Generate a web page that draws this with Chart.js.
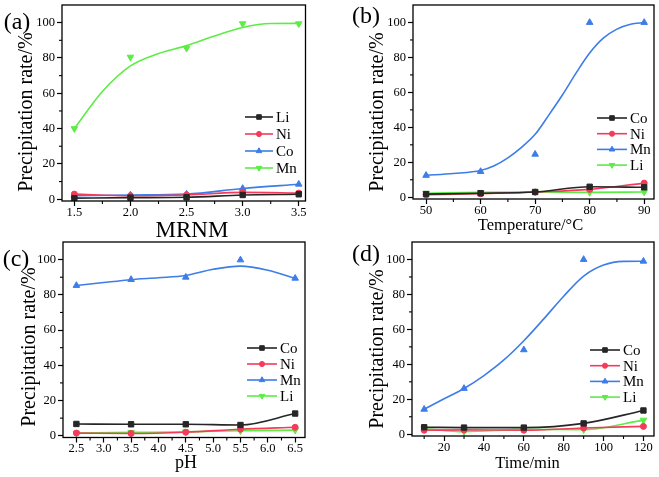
<!DOCTYPE html>
<html lang="en">
<head>
    <meta charset="UTF-8">
    <title>Precipitation rate</title>
    <script src="https://cdn.jsdelivr.net/npm/chart.js"></script>
    <style>
        html, body { margin: 0; padding: 0; background: #fff; }
        body { width: 659px; height: 477px; position: relative; overflow: hidden; }
        canvas { position: absolute; }
    </style>
</head>
<body>
    <canvas id="chartA" width="330" height="240" style="left:0;top:0"></canvas>
    <canvas id="chartB" width="329" height="240" style="left:330px;top:0"></canvas>
    <canvas id="chartC" width="330" height="240" style="left:0;top:237px"></canvas>
    <canvas id="chartD" width="329" height="240" style="left:330px;top:237px"></canvas>
    <script>
        // (a) MRNM
        const mrnm = [1.5, 2.0, 2.5, 3.0, 3.5];
        const liA = [0.6, 0.9, 1.1, 2.4, 2.8];
        const niA = [2.9, 2.0, 2.4, 3.9, 3.5];
        const coA = [2.0, 2.4, 2.9, 6.1, 8.5];
        const mnA = [40, 80.5, 85.5, 99.4, 99.4];
        const mnFitXA = [1.5, 1.75, 2.0, 2.25, 2.5, 2.75, 3.0, 3.25, 3.5];
        const mnFitA = [40, 61, 75.5, 82.5, 87, 92.5, 97.3, 99.5, 99.6];

        // (b) temperature
        const temps = [50, 60, 70, 80, 90];
        const coB = [1.8, 2.3, 3.0, 6.0, 5.7];
        const niB = [1.5, 2.0, 3.0, 4.5, 8.1];
        const mnB = [12.5, 14.7, 24.6, 100, 100];
        const liB = [2.3, 2.8, 3.0, 2.8, 3.0];
        const mnFitXB = [50, 55, 60, 62.5, 65, 67.5, 70, 72.5, 75, 77.5, 80, 82.5, 85, 87.5, 90];
        const mnFitB = [12.5, 13.6, 15.3, 18, 22.5, 28.5, 36, 47, 58.5, 71, 82.5, 91, 96.2, 99, 100];

        // (c) pH
        const phs = [2.5, 3.5, 4.5, 5.5, 6.5];
        const coC = [6.7, 6.5, 6.5, 6.1, 12.6];
        const niC = [1.5, 1.3, 2.0, 3.7, 4.8];
        const mnC = [85.3, 88.7, 90, 99.8, 89.4];
        const liC = [1.5, 1.9, 2.2, 2.8, 3.2];
        const mnFitXC = [2.5, 3.0, 3.5, 4.0, 4.5, 5.0, 5.5, 6.0, 6.5];
        const mnFitC = [85.3, 87, 88.6, 89.7, 91, 94.5, 96.3, 94, 89.4];

        // (d) time
        const times = [10, 30, 60, 90, 120];
        const coD = [4.0, 3.8, 3.8, 6.2, 13.6];
        const niD = [2.3, 2.5, 2.3, 3.6, 4.5];
        const mnD = [14.3, 26.2, 48.3, 100, 99];
        const liD = [3.2, 1.5, 2.8, 2.6, 8.1];
        const mnFitXD = [10, 20, 30, 40, 50, 60, 70, 80, 90, 100, 110, 120];
        const mnFitD = [14.3, 20.3, 26.2, 33.6, 42.5, 53.5, 66, 79, 90.5, 96.8, 98.9, 99];

        // tick labels
        const yTicks = [0, 20, 40, 60, 80, 100];
        const xTicksA = [1.5, 2.0, 2.5, 3.0, 3.5];
        const xTicksB = [50, 60, 70, 80, 90];
        const xTicksC = [2.5, 3.0, 3.5, 4.0, 4.5, 5.0, 5.5, 6.0, 6.5];
        const xTicksD = [20, 40, 60, 80, 100, 120];

        const BLACK = '#262626', RED = '#f53b5b', BLUE = '#3d7de8', GREEN = '#5ced45';
        const SERIF = '"Liberation Serif", "Times New Roman", serif';
        const Y_TITLE = 'Precipitation rate/%';

        const markers = {
            square: { pointStyle: 'rect', radius: 3.8, rotation: 0 },
            circle: { pointStyle: 'circle', radius: 3, rotation: 0 },
            up: { pointStyle: 'triangle', radius: 3.8, rotation: 0 },
            down: { pointStyle: 'triangle', radius: 3.8, rotation: 180 },
        };

        const xy = (xs, ys) => xs.map((x, i) => ({ x: x, y: ys[i] }));

        function seriesSets(s, xs) {
            const m = markers[s.marker];
            const base = {
                borderColor: s.color, backgroundColor: s.color,
                pointBackgroundColor: s.color, pointBorderColor: s.color,
                pointStyle: m.pointStyle, pointRadius: m.radius, pointRotation: m.rotation,
                pointBorderWidth: 1, borderWidth: 1.6, cubicInterpolationMode: 'monotone',
            };
            if (s.fitX) {
                return [
                    Object.assign({}, base, { label: s.label, data: xy(s.fitX, s.fitY), pointRadius: 0 }),
                    Object.assign({}, base, { label: s.label + ' data', data: xy(xs, s.ys), showLine: false }),
                ];
            }
            return [Object.assign({}, base, { label: s.label, data: xy(xs, s.ys) })];
        }

        // plot box, minor ticks, titles and legend
        const decor = {
            id: 'decor',
            afterDraw(chart, args, o) {
                const { ctx, chartArea: a, scales: { x, y } } = chart;
                ctx.save();
                ctx.strokeStyle = '#000';
                ctx.lineWidth = 1.3;
                ctx.strokeRect(a.left, a.top, a.right - a.left, a.bottom - a.top);

                ctx.lineWidth = 1.1;
                const mids = arr => arr.slice(1).map((v, i) => (v + arr[i]) / 2);
                const xm = mids(o.xTicks);
                const stepX = o.xTicks[1] - o.xTicks[0];
                xm.push(o.xTicks[0] - stepX / 2, o.xTicks[o.xTicks.length - 1] + stepX / 2);
                xm.filter(v => v > x.min && v < x.max).forEach(v => {
                    const px = x.getPixelForValue(v);
                    ctx.beginPath(); ctx.moveTo(px, a.bottom); ctx.lineTo(px, a.bottom + 3); ctx.stroke();
                });
                mids(yTicks).forEach(v => {
                    const py = y.getPixelForValue(v);
                    ctx.beginPath(); ctx.moveTo(a.left, py); ctx.lineTo(a.left - 3, py); ctx.stroke();
                });

                ctx.fillStyle = '#000';
                ctx.textAlign = 'center';
                ctx.textBaseline = 'middle';
                ctx.font = o.panel.size + 'px ' + SERIF;
                ctx.fillText(o.panel.text, o.panel.x, o.panel.y);

                ctx.textBaseline = 'alphabetic';
                ctx.font = o.xTitle.size + 'px ' + SERIF;
                ctx.fillText(o.xTitle.text, o.xTitle.x, o.xTitle.y);

                ctx.save();
                ctx.translate(o.yTitle.x, o.yTitle.y);
                ctx.rotate(-Math.PI / 2);
                ctx.textBaseline = 'middle';
                ctx.font = o.yTitle.size + 'px ' + SERIF;
                ctx.fillText(Y_TITLE, 0, 0);
                ctx.restore();

                const lg = o.legend;
                ctx.font = '15px ' + SERIF;
                ctx.textAlign = 'left';
                ctx.textBaseline = 'middle';
                o.series.forEach((s, i) => {
                    const ly = lg.y0 + i * lg.dy;
                    const m = markers[s.marker];
                    ctx.strokeStyle = s.color;
                    ctx.fillStyle = s.color;
                    ctx.lineWidth = 1.6;
                    ctx.beginPath(); ctx.moveTo(lg.x0, ly); ctx.lineTo(lg.x1, ly); ctx.stroke();
                    ctx.lineWidth = 1;
                    Chart.helpers.drawPoint(ctx, { pointStyle: m.pointStyle, rotation: m.rotation, radius: m.radius * 0.85, borderWidth: 1 }, (lg.x0 + lg.x1) / 2, ly);
                    ctx.fillStyle = '#000';
                    ctx.fillText(s.label, lg.tx, ly + 1);
                });
                ctx.restore();
            }
        };

        function makePanel(id, p) {
            const datasets = [];
            p.series.forEach(s => seriesSets(s, p.xs).forEach(d => datasets.push(d)));
            const tickFont = { family: SERIF, size: 12.5 };
            return new Chart(document.getElementById(id), {
                type: 'line',
                data: { datasets: datasets },
                options: {
                    responsive: false,
                    animation: false,
                    events: [],
                    layout: { padding: { left: 0, top: p.padTop, right: p.padRight, bottom: 0 } },
                    plugins: {
                        legend: { display: false },
                        tooltip: { enabled: false },
                        decor: {
                            xTicks: p.xTicks, series: p.series, legend: p.legend,
                            panel: p.panel, xTitle: p.xTitle, yTitle: p.yTitle,
                        },
                    },
                    scales: {
                        x: {
                            type: 'linear', min: p.xMin, max: p.xMax,
                            afterBuildTicks: s => { s.ticks = p.xTicks.map(v => ({ value: v })); },
                            afterFit: s => { s.height = p.xAxisH; s.paddingLeft = 0; s.paddingRight = 0; },
                            ticks: {
                                color: '#000', font: tickFont, padding: -1, maxRotation: 0, autoSkip: false,
                                callback: v => p.xDec ? v.toFixed(p.xDec) : String(v),
                            },
                            grid: { drawOnChartArea: false, tickLength: 5, tickColor: '#000', tickWidth: 1.2 },
                            border: { display: false },
                        },
                        y: {
                            min: -1, max: 110,
                            afterBuildTicks: s => { s.ticks = yTicks.map(v => ({ value: v })); },
                            afterFit: s => { s.width = p.yAxisW; s.paddingTop = 0; s.paddingBottom = 0; },
                            ticks: { color: '#000', font: tickFont, padding: 2 },
                            grid: { drawOnChartArea: false, tickLength: 5, tickColor: '#000', tickWidth: 1.2 },
                            border: { display: false },
                        },
                    },
                },
                plugins: [decor],
            });
        }

        makePanel('chartA', {
            xs: mrnm, xTicks: xTicksA, xDec: 1, xMin: 1.39, xMax: 3.56,
            yAxisW: 62, xAxisH: 39, padTop: 3, padRight: 24.5,
            series: [
                { label: 'Li', ys: liA, color: BLACK, marker: 'square' },
                { label: 'Ni', ys: niA, color: RED, marker: 'circle' },
                { label: 'Co', ys: coA, color: BLUE, marker: 'up' },
                { label: 'Mn', ys: mnA, color: GREEN, marker: 'down', fitX: mnFitXA, fitY: mnFitA },
            ],
            legend: { x0: 245, x1: 273, tx: 276, y0: 117, dy: 17 },
            panel: { text: '(a)', x: 17, y: 23, size: 24 },
            xTitle: { text: 'MRNM', x: 192, y: 237, size: 23 },
            yTitle: { x: 27, y: 112, size: 20 },
        });

        makePanel('chartB', {
            xs: temps, xTicks: xTicksB, xDec: 0, xMin: 47.6, xMax: 91.8,
            yAxisW: 83, xAxisH: 41, padTop: 3, padRight: 4,
            series: [
                { label: 'Co', ys: coB, color: BLACK, marker: 'square' },
                { label: 'Ni', ys: niB, color: RED, marker: 'circle' },
                { label: 'Mn', ys: mnB, color: BLUE, marker: 'up', fitX: mnFitXB, fitY: mnFitB },
                { label: 'Li', ys: liB, color: GREEN, marker: 'down' },
            ],
            legend: { x0: 267, x1: 297, tx: 300, y0: 118, dy: 15.7 },
            panel: { text: '(b)', x: 36, y: 17, size: 24 },
            xTitle: { text: 'Temperature/°C', x: 200.5, y: 230, size: 16.5 },
            yTitle: { x: 48, y: 112, size: 20 },
        });

        makePanel('chartC', {
            xs: phs, xTicks: xTicksC, xDec: 1, xMin: 2.255, xMax: 6.68,
            yAxisW: 63, xAxisH: 39.5, padTop: 3, padRight: 25,
            series: [
                { label: 'Co', ys: coC, color: BLACK, marker: 'square' },
                { label: 'Ni', ys: niC, color: RED, marker: 'circle' },
                { label: 'Mn', ys: mnC, color: BLUE, marker: 'up', fitX: mnFitXC, fitY: mnFitC },
                { label: 'Li', ys: liC, color: GREEN, marker: 'down' },
            ],
            legend: { x0: 247, x1: 277, tx: 280, y0: 111, dy: 16 },
            panel: { text: '(c)', x: 16, y: 23, size: 24 },
            xTitle: { text: 'pH', x: 186, y: 231, size: 18 },
            yTitle: { x: 30, y: 110, size: 20 },
        });

        makePanel('chartD', {
            xs: times, xTicks: xTicksD, xDec: 0, xMin: 3.9, xMax: 125.3,
            yAxisW: 82, xAxisH: 41, padTop: 4, padRight: 4,
            series: [
                { label: 'Co', ys: coD, color: BLACK, marker: 'square' },
                { label: 'Ni', ys: niD, color: RED, marker: 'circle' },
                { label: 'Mn', ys: mnD, color: BLUE, marker: 'up', fitX: mnFitXD, fitY: mnFitD },
                { label: 'Li', ys: liD, color: GREEN, marker: 'down' },
            ],
            legend: { x0: 260, x1: 290, tx: 293, y0: 113, dy: 15.7 },
            panel: { text: '(d)', x: 36, y: 17.5, size: 24 },
            xTitle: { text: 'Time/min', x: 197.5, y: 231, size: 16.5 },
            yTitle: { x: 48, y: 112, size: 20 },
        });
    </script>
</body>
</html>
